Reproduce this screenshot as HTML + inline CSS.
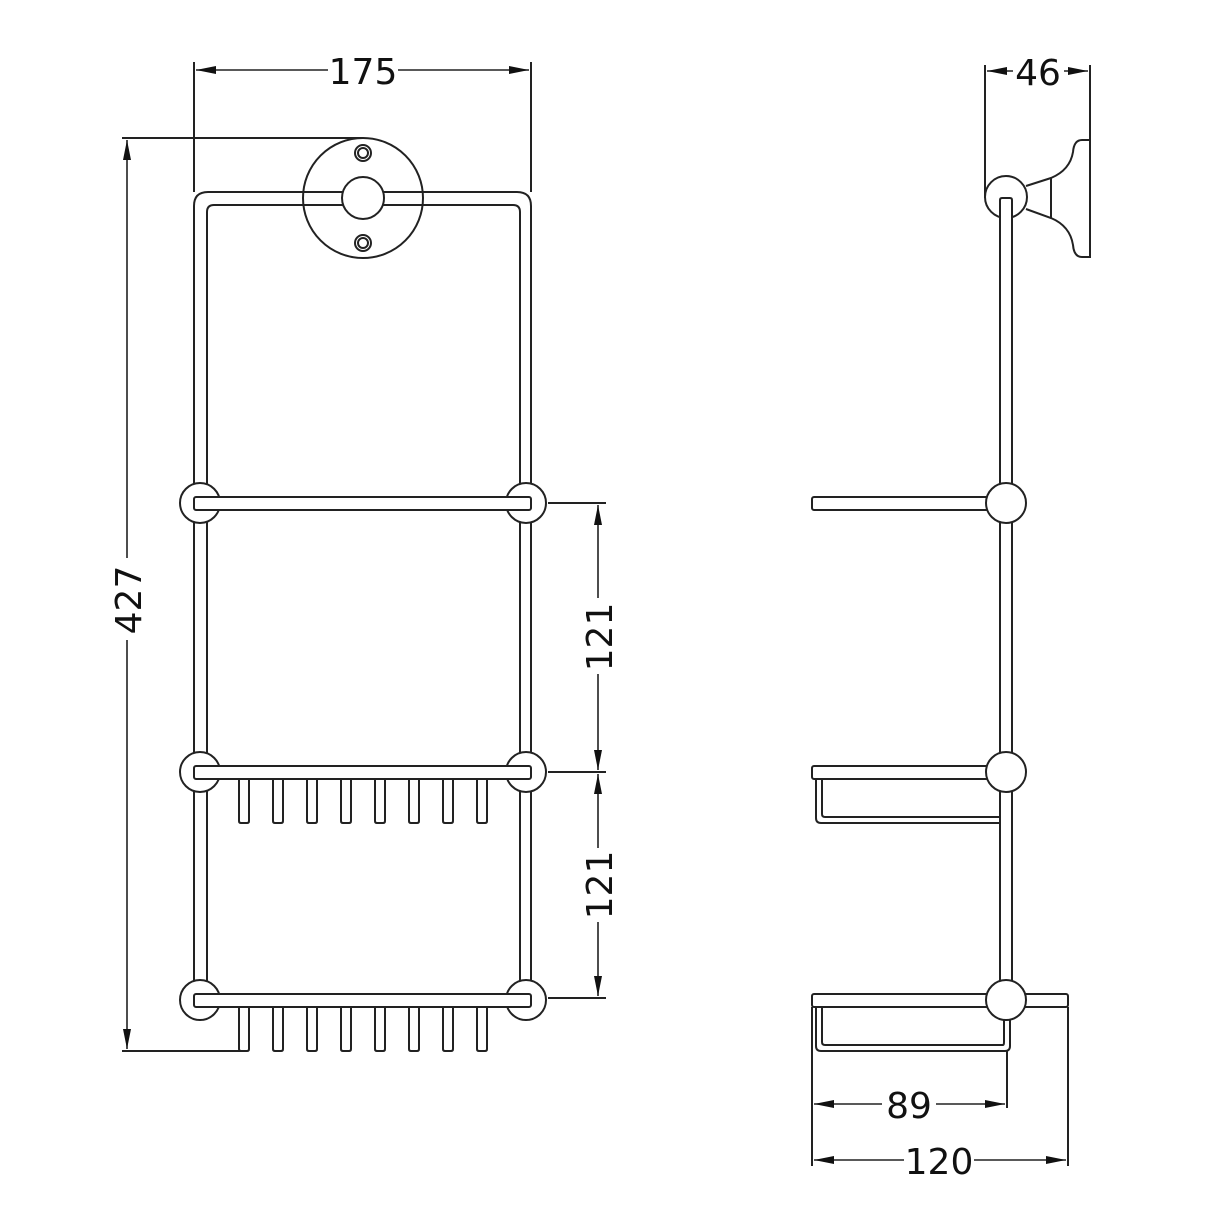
<!DOCTYPE html>
<html><head><style>html,body{margin:0;padding:0;background:#fff}svg{display:block}</style></head>
<body>
<svg width="1214" height="1214" viewBox="0 0 1214 1214" xmlns="http://www.w3.org/2000/svg">
<defs>
<marker id="a" viewBox="0 0 20 9" refX="20" refY="4.5" markerWidth="20" markerHeight="9" markerUnits="userSpaceOnUse" orient="auto-start-reverse"><path d="M0,0.5 L20,4.5 L0,8.5 z" fill="#111"/></marker>
</defs>
<g fill="none" stroke="#222" stroke-width="2">
<circle cx="363" cy="198" r="60" fill="#fff"/>
<path d="M194,1000 V206 Q194,192 208,192 H517 Q531,192 531,206 V1000"/>
<path d="M207,1000 V212 Q207,205 214,205 H513 Q520,205 520,212 V1000"/>
<circle cx="363" cy="198" r="21" fill="#fff"/>
<circle cx="363" cy="153" r="8"/><circle cx="363" cy="153" r="5"/>
<circle cx="363" cy="243" r="8"/><circle cx="363" cy="243" r="5"/>
<g fill="#fff">
<circle cx="200" cy="503" r="20"/><circle cx="526" cy="503" r="20"/>
<rect x="194" y="497" width="337" height="13" rx="2"/>
<circle cx="200" cy="772" r="20"/><circle cx="526" cy="772" r="20"/>
<rect x="194" y="766" width="337" height="13" rx="2"/>
<circle cx="200" cy="1000" r="20"/><circle cx="526" cy="1000" r="20"/>
<rect x="194" y="994" width="337" height="13" rx="2"/>
</g>
<g id="p1">
<path d="M239,779 V821 Q239,823 241,823 H247 Q249,823 249,821 V779"/>
<path d="M273,779 V821 Q273,823 275,823 H281 Q283,823 283,821 V779"/>
<path d="M307,779 V821 Q307,823 309,823 H315 Q317,823 317,821 V779"/>
<path d="M341,779 V821 Q341,823 343,823 H349 Q351,823 351,821 V779"/>
<path d="M375,779 V821 Q375,823 377,823 H383 Q385,823 385,821 V779"/>
<path d="M409,779 V821 Q409,823 411,823 H417 Q419,823 419,821 V779"/>
<path d="M443,779 V821 Q443,823 445,823 H451 Q453,823 453,821 V779"/>
<path d="M477,779 V821 Q477,823 479,823 H485 Q487,823 487,821 V779"/>
</g>
<use href="#p1" transform="translate(0,228)"/>
<path d="M194,62 V192 M531,62 V192"/>
<path d="M196,70 H328 M398,70 H529" marker-start="url(#a)" marker-end="url(#a)" stroke-width="1.6"/>
<path d="M122,138 H363 M122,1051 H244"/>
<path d="M127,140 V558 M127,640 V1049" marker-start="url(#a)" marker-end="url(#a)" stroke-width="1.6"/>
<path d="M548,503 H606 M548,772 H606 M548,998 H606"/>
<path d="M598,505 V598 M598,674 V770" marker-start="url(#a)" marker-end="url(#a)" stroke-width="1.6"/>
<path d="M598,774 V848 M598,922 V996" marker-start="url(#a)" marker-end="url(#a)" stroke-width="1.6"/>

<!-- RIGHT VIEW -->
<path d="M1026,186 L1051,178 Q1070,170 1073,152 Q1074,140 1082,140 H1090 V257 H1082 Q1074,257 1073,245 Q1070,226 1051,218 L1026,209"/>
<path d="M1051,178 V218"/>
<circle cx="1006" cy="197" r="21" fill="#fff"/>
<path d="M1000,1020 V200 Q1000,198 1002,198 H1010 Q1012,198 1012,200 V1020" fill="#fff"/>
<path d="M985,65 V198 M1090,65 V140"/>
<path d="M987,71 H1013 M1064,71 H1088" marker-start="url(#a)" marker-end="url(#a)" stroke-width="1.6"/>
<rect x="812" y="497" width="190" height="13" rx="2" fill="#fff"/>
<circle cx="1006" cy="503" r="20" fill="#fff"/>
<path d="M816,779 V818 Q816,823 821,823 H1000 M822,779 V814 Q822,817 825,817 H1000"/>
<rect x="812" y="766" width="190" height="13" rx="2" fill="#fff"/>
<circle cx="1006" cy="772" r="20" fill="#fff"/>
<path d="M816,1007 V1046 Q816,1051 821,1051 H1005 Q1010,1051 1010,1046 V1015 M822,1007 V1042 Q822,1045 825,1045 H1003 Q1004,1045 1004,1042 V1015"/>
<rect x="812" y="994" width="256" height="13" rx="2" fill="#fff"/>
<circle cx="1006" cy="1000" r="20" fill="#fff"/>
<path d="M812,1007 V1166 M1068,1007 V1166 M1007,1051 V1108"/>
<path d="M814,1104 H882 M936,1104 H1005" marker-start="url(#a)" marker-end="url(#a)" stroke-width="1.6"/>
<path d="M814,1160 H904 M974,1160 H1066" marker-start="url(#a)" marker-end="url(#a)" stroke-width="1.6"/>
</g>
<g font-family="'DejaVu Sans', 'Liberation Sans', sans-serif" font-size="36" fill="#111" text-anchor="middle">
<text x="363" y="84">175</text>
<text x="1038" y="85">46</text>
<text x="909" y="1118">89</text>
<text x="939" y="1174">120</text>
<text transform="translate(141,600) rotate(-90)">427</text>
<text transform="translate(612,637) rotate(-90)">121</text>
<text transform="translate(612,885) rotate(-90)">121</text>
</g>
</svg>
</body></html>
